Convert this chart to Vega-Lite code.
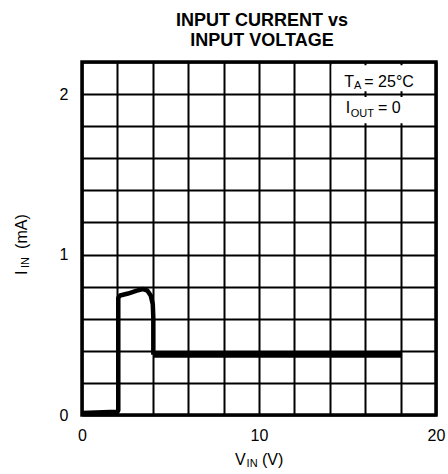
{
  "$schema": "https://vega.github.io/schema/vega-lite/v6.json",
  "autosize": "none",
  "width": 354,
  "height": 353,
  "padding": {"left": 82, "top": 62, "right": 12, "bottom": 59},
  "background": "white",
  "config": {
    "view": {"stroke": "black", "strokeWidth": 3.5},
    "font": "Liberation Sans",
    "text": {"font": "Liberation Sans", "color": "black"}
  },
  "title": {
    "text": ["INPUT CURRENT vs", "INPUT VOLTAGE"],
    "font": "Liberation Sans",
    "fontSize": 18,
    "fontWeight": "bold",
    "lineHeight": 20,
    "anchor": "middle",
    "frame": "group",
    "dx": 3,
    "offset": 4,
    "color": "black"
  },
  "datasets": {
    "curve": [
      {"v": 0, "i": 0.012, "part": "a"},
      {"v": 2.0, "i": 0.02, "part": "a"},
      {"v": 2.05, "i": 0.03, "part": "a"},
      {"v": 2.05, "i": 0.73, "part": "a"},
      {"v": 2.15, "i": 0.745, "part": "a"},
      {"v": 2.6, "i": 0.757, "part": "a"},
      {"v": 3.1, "i": 0.775, "part": "a"},
      {"v": 3.45, "i": 0.785, "part": "a"},
      {"v": 3.7, "i": 0.775, "part": "a"},
      {"v": 3.88, "i": 0.745, "part": "a"},
      {"v": 4.0, "i": 0.69, "part": "a"},
      {"v": 4.03, "i": 0.6, "part": "a"},
      {"v": 4.03, "i": 0.375, "part": "a"},
      {"v": 4.03, "i": 0.375, "part": "b"},
      {"v": 18.05, "i": 0.375, "part": "b"}
    ],
    "one": [{}]
  },
  "layer": [
    {
      "data": {"name": "curve"},
      "transform": [{"filter": "datum.part == 'a'"}],
      "mark": {"type": "line", "color": "black", "strokeWidth": 4.5, "strokeJoin": "round", "strokeCap": "butt"},
      "encoding": {
        "x": {
          "field": "v", "type": "quantitative", "title": null,
          "scale": {"domain": [0, 20], "nice": false, "zero": false},
          "axis": {
            "values": [0, 2, 4, 6, 8, 10, 12, 14, 16, 18, 20],
            "tickCount": 40,
            "format": "d",
            "labelExpr": "datum.value == 0 || datum.value == 10 || datum.value == 20 ? datum.label : ''",
            "grid": true, "gridColor": "black", "gridWidth": 2, "gridOpacity": 1,
            "domain": false, "ticks": false, "tickSize": 0,
            "labelPadding": 12, "labelFontSize": 16, "labelColor": "black",
            "labelFont": "Liberation Sans",
            "labelFlush": false, "labelOverlap": false
          }
        },
        "y": {
          "field": "i", "type": "quantitative", "title": null,
          "scale": {"domain": [0, 2.2], "nice": false, "zero": false},
          "axis": {
            "values": [0, 0.2, 0.4, 0.6, 0.8, 1, 1.2, 1.4, 1.6, 1.8, 2, 2.2],
            "tickCount": 40,
            "labelExpr": "datum.value == 0 ? '0' : datum.value == 1 ? '1' : datum.value == 2 ? '2' : ''",
            "grid": true, "gridColor": "black", "gridWidth": 2, "gridOpacity": 1,
            "domain": false, "ticks": false, "tickSize": 0,
            "labelPadding": 14, "labelFontSize": 16, "labelColor": "black",
            "labelFont": "Liberation Sans",
            "labelFlush": false, "labelOverlap": false
          }
        }
      }
    },
    {
      "data": {"name": "curve"},
      "transform": [{"filter": "datum.part == 'b'"}],
      "mark": {"type": "line", "color": "black", "strokeWidth": 6, "strokeCap": "butt"},
      "encoding": {
        "x": {"field": "v", "type": "quantitative"},
        "y": {"field": "i", "type": "quantitative"}
      }
    },
    {
      "data": {"name": "one"},
      "mark": {"type": "rect", "color": "white"},
      "encoding": {
        "x": {"datum": 14.1, "type": "quantitative"},
        "x2": {"datum": 19.88},
        "y": {"datum": 2.018, "type": "quantitative"},
        "y2": {"datum": 2.18}
      }
    },
    {
      "data": {"name": "one"},
      "mark": {"type": "rect", "color": "white"},
      "encoding": {
        "x": {"datum": 14.1, "type": "quantitative"},
        "x2": {"datum": 19.88},
        "y": {"datum": 1.818, "type": "quantitative"},
        "y2": {"datum": 1.982}
      }
    },
    {
      "data": {"name": "one"},
      "mark": {"type": "text", "text": "T", "fontSize": 16, "align": "left", "baseline": "alphabetic"},
      "encoding": {"x": {"datum": 14.82, "type": "quantitative"}, "y": {"datum": 2.044, "type": "quantitative"}}
    },
    {
      "data": {"name": "one"},
      "mark": {"type": "text", "text": "A", "fontSize": 11, "align": "left", "baseline": "alphabetic"},
      "encoding": {"x": {"datum": 15.37, "type": "quantitative"}, "y": {"datum": 2.03, "type": "quantitative"}}
    },
    {
      "data": {"name": "one"},
      "mark": {"type": "text", "text": "= 25°C", "fontSize": 16, "align": "left", "baseline": "alphabetic"},
      "encoding": {"x": {"datum": 15.95, "type": "quantitative"}, "y": {"datum": 2.044, "type": "quantitative"}}
    },
    {
      "data": {"name": "one"},
      "mark": {"type": "text", "text": "I", "fontSize": 16, "align": "left", "baseline": "alphabetic"},
      "encoding": {"x": {"datum": 14.9, "type": "quantitative"}, "y": {"datum": 1.882, "type": "quantitative"}}
    },
    {
      "data": {"name": "one"},
      "mark": {"type": "text", "text": "OUT", "fontSize": 11, "align": "left", "baseline": "alphabetic"},
      "encoding": {"x": {"datum": 15.18, "type": "quantitative"}, "y": {"datum": 1.857, "type": "quantitative"}}
    },
    {
      "data": {"name": "one"},
      "mark": {"type": "text", "text": "= 0", "fontSize": 16, "align": "left", "baseline": "alphabetic"},
      "encoding": {"x": {"datum": 16.72, "type": "quantitative"}, "y": {"datum": 1.882, "type": "quantitative"}}
    },
    {
      "data": {"name": "one"},
      "mark": {"type": "text", "text": "V", "fontSize": 16, "align": "left", "baseline": "alphabetic"},
      "encoding": {"x": {"datum": 8.64, "type": "quantitative"}, "y": {"datum": -0.312, "type": "quantitative"}}
    },
    {
      "data": {"name": "one"},
      "mark": {"type": "text", "text": "IN", "fontSize": 11, "align": "left", "baseline": "alphabetic"},
      "encoding": {"x": {"datum": 9.3, "type": "quantitative"}, "y": {"datum": -0.324, "type": "quantitative"}}
    },
    {
      "data": {"name": "one"},
      "mark": {"type": "text", "text": "(V)", "fontSize": 16, "align": "left", "baseline": "alphabetic"},
      "encoding": {"x": {"datum": 10.17, "type": "quantitative"}, "y": {"datum": -0.312, "type": "quantitative"}}
    },
    {
      "data": {"name": "one"},
      "mark": {"type": "text", "text": "I", "fontSize": 16, "align": "left", "baseline": "alphabetic", "angle": 270},
      "encoding": {"x": {"datum": -3.107, "type": "quantitative"}, "y": {"datum": 0.873, "type": "quantitative"}}
    },
    {
      "data": {"name": "one"},
      "mark": {"type": "text", "text": "IN", "fontSize": 11, "align": "left", "baseline": "alphabetic", "angle": 270},
      "encoding": {"x": {"datum": -2.994, "type": "quantitative"}, "y": {"datum": 0.916, "type": "quantitative"}}
    },
    {
      "data": {"name": "one"},
      "mark": {"type": "text", "text": "(mA)", "fontSize": 16, "align": "left", "baseline": "alphabetic", "angle": 270},
      "encoding": {"x": {"datum": -3.107, "type": "quantitative"}, "y": {"datum": 1.035, "type": "quantitative"}}
    }
  ]
}
